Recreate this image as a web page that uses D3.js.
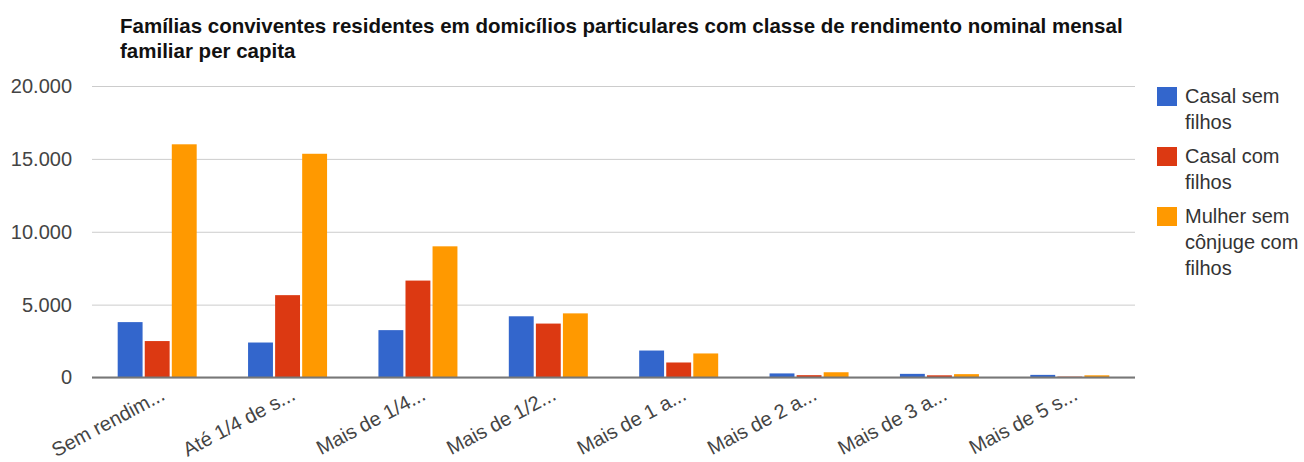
<!DOCTYPE html>
<html>
<head>
<meta charset="utf-8">
<script src="https://cdn.jsdelivr.net/npm/d3@7"></script>
<style>
  body { margin: 0; background: #fff; }
  svg { display: block; font-family: Arial, "Liberation Sans", sans-serif; }
</style>
</head>
<body>
<div id="chart"></div>
<script>
"use strict";
// chart values
const categories = ["Sem rendim...", "Até 1/4 de s...", "Mais de 1/4...", "Mais de 1/2...",
                    "Mais de 1 a...", "Mais de 2 a...", "Mais de 3 a...", "Mais de 5 s..."];
const seriesNames = ["Casal sem filhos", "Casal com filhos", "Mulher sem cônjuge com filhos"];
const casalSemFilhos = [3800, 2400, 3250, 4200, 1850, 280, 250, 180];
const casalComFilhos = [2500, 5650, 6650, 3700, 1030, 160, 150, 60];
const mulherSemConjuge = [16000, 15350, 9000, 4400, 1650, 360, 230, 150];
const yTicks = [0, 5000, 10000, 15000, 20000];
const titleLines = ["Famílias conviventes residentes em domicílios particulares com classe de rendimento nominal mensal",
                    "familiar per capita"];
const colors = ["#3366cc", "#dc3912", "#ff9900"];

(function() {
    const width = 1304, height = 462;
    const plot = {left: 92, right: 1135, top: 86, bottom: 377.5};
    const seriesValues = [casalSemFilhos, casalComFilhos, mulherSemConjuge];

    const svg = d3.select("#chart").append("svg")
        .attr("width", width)
        .attr("height", height);

    const br = d3.formatLocale({decimal: ",", thousands: ".", grouping: [3], currency: ["R$", ""]});
    const fmt = br.format(",d");

    const yScale = d3.scaleLinear()
        .domain([0, 20000])
        .range([plot.bottom, plot.top]);

    const xScale = d3.scaleBand()
        .domain(categories)
        .range([plot.left, plot.right])
        .paddingInner(0.394)
        .paddingOuter(0.197);

    const inner = d3.scaleBand()
        .domain(d3.range(seriesNames.length))
        .range([0, xScale.bandwidth()])
        .paddingInner(0.08);

    // title
    svg.append("g").selectAll("text")
        .data(titleLines)
        .enter()
        .append("text")
            .attr("x", 120)
            .attr("y", (d, i) => 33 + i * 25)
            .attr("font-size", "20.5px")
            .attr("font-weight", "bold")
            .attr("fill", "#111")
            .text(d => d);

    // gridlines + y labels
    svg.append("g")
        .attr("transform", "translate(" + plot.left + ",0)")
        .call(d3.axisLeft(yScale)
            .tickValues(yTicks)
            .tickSize(-(plot.right - plot.left))
            .tickPadding(20)
            .tickFormat(fmt))
        .call(g => g.select(".domain").remove())
        .call(g => g.selectAll(".tick line").attr("stroke", "#cccccc"))
        .call(g => g.selectAll(".tick text")
            .attr("font-size", "20px")
            .attr("font-family", "Arial, 'Liberation Sans', sans-serif")
            .attr("fill", "#444"));

    // bars
    const groups = svg.append("g").selectAll("g")
        .data(categories)
        .enter()
        .append("g")
            .attr("transform", d => "translate(" + xScale(d) + ",0)");

    groups.selectAll("rect")
        .data((d, ci) => seriesValues.map((vals, si) => ({s: si, v: vals[ci]})))
        .enter()
        .append("rect")
            .attr("x", d => inner(d.s))
            .attr("width", inner.bandwidth())
            .attr("y", d => yScale(d.v))
            .attr("height", d => yScale(0) - yScale(d.v))
            .attr("fill", d => colors[d.s]);

    // baseline
    svg.append("line")
        .attr("x1", plot.left)
        .attr("x2", plot.right)
        .attr("y1", yScale(0))
        .attr("y2", yScale(0))
        .attr("stroke", "#777")
        .attr("stroke-width", 2);

    // slanted x labels
    svg.append("g").selectAll("text")
        .data(categories)
        .enter()
        .append("text")
            .attr("text-anchor", "end")
            .attr("font-size", "20px")
            .attr("fill", "#444")
            .attr("transform", d => "translate(" + (xScale(d) + xScale.bandwidth() / 2 + 9) + ",399) rotate(-28)")
            .text(d => d);

    // legend
    const legend = svg.append("g");
    seriesNames.forEach(function(name, i) {
        const top = 87 + i * 60;
        legend.append("rect")
            .attr("x", 1157)
            .attr("y", top)
            .attr("width", 20)
            .attr("height", 19)
            .attr("fill", colors[i]);
        const t = legend.append("text")
            .attr("x", 1185)
            .attr("y", top + 16)
            .attr("font-size", "20px")
            .attr("fill", "#333");
        wrap(t, name, 118);
    });

    function wrap(textSel, str, maxW) {
        const words = str.split(" ");
        let line = [];
        let tspan = textSel.append("tspan").attr("x", 1185).attr("dy", 0);
        words.forEach(function(w) {
            line.push(w);
            tspan.text(line.join(" "));
            if (tspan.node().getComputedTextLength() > maxW && line.length > 1) {
                line.pop();
                tspan.text(line.join(" "));
                line = [w];
                tspan = textSel.append("tspan").attr("x", 1185).attr("dy", 26).text(w);
            }
        });
    }
})();
</script>
</body>
</html>
